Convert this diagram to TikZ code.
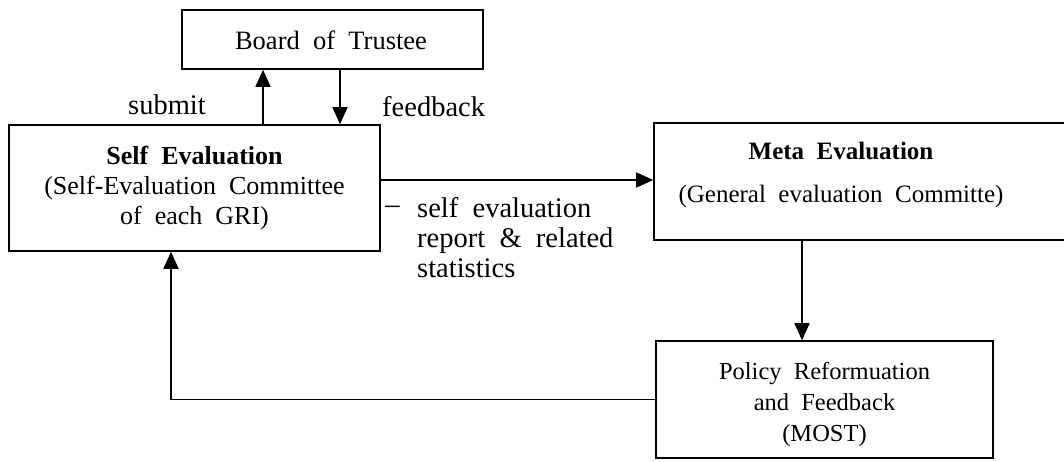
\documentclass[tikz,border=0pt]{standalone}
\usepackage{fontspec}
\setmainfont{Liberation Serif}
\usetikzlibrary{arrows.meta,calc}
\tikzset{
  box/.style={draw=black, line width=1.6pt, fill=none, inner sep=0pt},
  txt/.style={inner sep=0pt, align=center, font=\fontsize{26pt}{30pt}\selectfont},
  lbl/.style={inner sep=0pt, align=left, font=\fontsize{28.5pt}{30pt}\selectfont},
  arr/.style={line width=1.6pt, -{Triangle[length=17pt,width=15pt]}},
  ln/.style={line width=1.6pt}
}
\begin{document}
\begin{tikzpicture}[x=1pt,y=-1pt]
\useasboundingbox (0,0) rectangle (1064,461);
\clip (0,0) rectangle (1064,461);
% boxes
\node[box, minimum width=301pt, minimum height=59pt] (board) at (332.5,39.5) {};
\node[txt, font=\fontsize{26.5pt}{30pt}\selectfont] (boardtext) at (331,40) {Board\ \ of\ \ Trustee};
\node[box, minimum width=371pt, minimum height=126pt] (self) at (194.5,188) {};
\node[txt] (selftext) at (194.5,188) {\textbf{Self\ \ Evaluation}\\(Self-Evaluation\ \ Committee\\of\ \ each\ \ GRI)};
\node[box, minimum width=446pt, minimum height=117pt] (meta) at (877,181.5) {};
\node[txt, font=\fontsize{25pt}{30pt}\selectfont] (metatext) at (841,175) {\textbf{Meta\ \ Evaluation}\\[13pt](General\ \ evaluation\ \ Committe)};
\node[box, minimum width=337pt, minimum height=117pt] (policy) at (824.5,399.5) {};
\node[txt, font=\fontsize{24.5pt}{31pt}\selectfont] (policytext) at (824.5,404) {Policy\ \ Reformuation\\and\ \ Feedback\\(MOST)};
% labels
\node[lbl, anchor=east] (submit) at (206,105) {submit};
\node[lbl, anchor=west] (feedback) at (382,107) {feedback};
\node[lbl] (dash) at (392.5,210) {--};
\node[lbl, anchor=west] (report) at (417,238) {self\ \ evaluation\\report\ \ \&\ \ related\\statistics};
% helper coordinates
\coordinate (sx) at (263,0);
\coordinate (fbx) at (340,0);
\coordinate (ay) at (0,180);
\coordinate (mx) at (802,0);
\coordinate (lx) at (171,0);
% connectors
\draw[arr] (sx |- self.north) -- (sx |- board.south);
\draw[arr] (fbx |- board.south) -- (fbx |- self.north);
\draw[arr] (self.east |- ay) -- (meta.west |- ay);
\draw[arr] (mx |- meta.south) -- (mx |- policy.north);
\draw[arr] (policy.west) -| (lx |- self.south);
\end{tikzpicture}
\end{document}
